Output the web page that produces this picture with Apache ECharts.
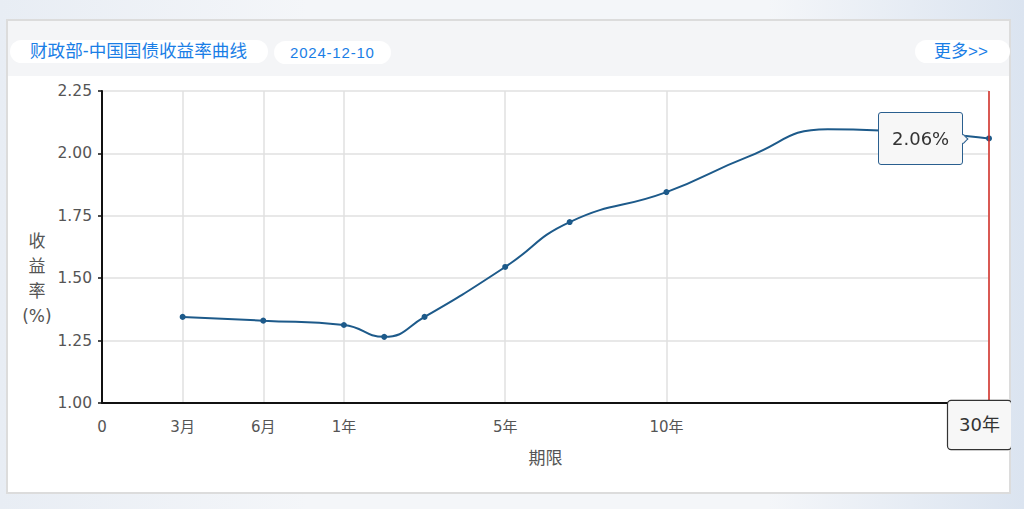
<!DOCTYPE html>
<html><head><meta charset="utf-8">
<script src="https://cdn.jsdelivr.net/npm/echarts@6/dist/echarts.min.js"></script>
<style>
html,body{margin:0;padding:0;width:1024px;height:509px;overflow:hidden;font-family:'Liberation Sans','Noto Sans CJK SC',sans-serif;}
body{background:linear-gradient(90deg,#e8edf4 0,#f4f6f9 30%,#f4f6f9 75%,#dbe4f0 100%);}
#card{position:absolute;left:6px;top:19px;width:1001px;height:471px;background:#fff;border:2px solid #dcdcdc;}
#head{position:absolute;left:0;top:0;width:100%;height:55px;background:#f4f5f7;}
.pill{position:absolute;height:23px;line-height:23px;background:#fff;border-radius:12px;color:#1a7ee6;white-space:nowrap;}
#chart{position:absolute;left:0;top:76px;width:1011px;height:418px;}
</style></head>
<body>
<div id="card"><div id="head">
<div class="pill" style="left:2px;top:19px;width:258px;padding-left:20px;box-sizing:border-box;font-size:17.6px;">财政部-中国国债收益率曲线</div>
<div class="pill" style="left:266px;top:20px;width:117px;padding-left:16px;box-sizing:border-box;font-size:15px;letter-spacing:0.8px;">2024-12-10</div>
<div class="pill" style="left:907px;top:19px;width:95px;padding-left:19px;box-sizing:border-box;font-size:17px;">更多&gt;&gt;</div>
</div></div>
<div id="chart"></div>
<script>
// ---- data ----
const tenorNames = ['3月','6月','1年','2年','3年','5年','7年','10年','15年','20年','30年'];
const tenorYears = [0.25,0.5,1,2,3,5,7,10,15,20,30];
const yields     = [1.345,1.33,1.3125,1.265,1.345,1.545,1.725,1.845,1.985,2.097,2.06];
const marked     = [true,true,true,true,true,true,true,true,false,false,true];
const tickYears  = [0,0.25,0.5,1,5,10,30];
const tickLabels = ['0','3月','6月','1年','5年','10年','30年'];
const tickSlots  = [0,1,2,3,5,7,11];
const yMin = 1.00, yMax = 2.25, yStep = 0.25;

// piecewise scale: tenor (years) -> axis slot
function slot(y){
  for(let i=0;i<tickYears.length-1;i++){
    if(y>=tickYears[i] && y<=tickYears[i+1]){
      return tickSlots[i] + (y-tickYears[i])/(tickYears[i+1]-tickYears[i])*(tickSlots[i+1]-tickSlots[i]);
    }
  }
  return tickSlots[tickSlots.length-1];
}
const maxSlot = tickSlots[tickSlots.length-1];
const gridColors = [];
for(let s=0;s<=maxSlot;s++) gridColors.push(tickSlots.indexOf(s)>=0 ? '#e0e0e0' : 'rgba(0,0,0,0)');
// the last tick's label is shown by the axis-pointer label that sits on top of it
const labelOf = v => {
  const r = Math.round(v); const k = tickSlots.indexOf(r);
  if (k<0 || Math.abs(v-r)>1e-6 || r===maxSlot) return '';
  return tickLabels[k];
};

const seriesData = tenorYears.map((t,i)=>({
  value:[slot(t), yields[i]], name:tenorNames[i],
  symbol: marked[i] ? 'circle' : 'none'
}));

const font = "'DejaVu Sans','Noto Sans CJK SC',sans-serif";
const chart = echarts.init(document.getElementById('chart'), null, {renderer:'svg'});
chart.setOption({
  animation:false,
  textStyle:{fontFamily:font},
  grid:{left:102, right:22, top:15, bottom:91, containLabel:false},
  xAxis:{
    type:'value', min:0, max:maxSlot, interval:1,
    name:'期限', nameLocation:'middle', nameGap:46,
    nameTextStyle:{color:'#555', fontSize:17, fontFamily:font},
    axisLine:{show:true, onZero:false, lineStyle:{color:'#111', width:2}},
    axisTick:{show:false},
    axisLabel:{color:'#555', fontSize:15, margin:16, formatter:labelOf, fontFamily:font},
    splitLine:{show:true, lineStyle:{color:gridColors, width:1.5}},
    axisPointer:{
      show:true, value:maxSlot, status:'show', snap:false, triggerTooltip:false, type:'line',
      lineStyle:{color:'#d42a22', width:1.5, type:'solid'},
      label:{show:true, formatter:()=>tenorNames[tenorNames.length-1], backgroundColor:'#f7f7f7',
        borderColor:'#333', borderWidth:1.2, borderRadius:3, color:'#333', fontSize:18,
        padding:[15,11,15,11], margin:-2, fontFamily:font}
    }
  },
  yAxis:{
    type:'value', min:yMin, max:yMax, interval:yStep, offset:3,
    name:'{g| }\n{t|收}\n{t|益}\n{t|率}\n{t|(%)}', nameLocation:'middle', nameGap:57, nameRotate:0,
    nameTextStyle:{color:'#555', fontSize:17, align:'center', fontFamily:font,
      rich:{g:{lineHeight:62, height:62, fontSize:10}, t:{lineHeight:25, fontSize:17, color:'#555', fontFamily:font}}},
    axisLine:{show:true, lineStyle:{color:'#111', width:2}},
    axisTick:{show:true, length:4, lineStyle:{color:'#111', width:1.5}},
    axisLabel:{color:'#555', fontSize:15.5, margin:7, formatter:v=>v.toFixed(2), fontFamily:font},
    splitLine:{show:true, lineStyle:{color:'#e0e0e0', width:1.5}}
  },
  tooltip:{
    trigger:'item', triggerOn:'none', alwaysShowContent:true, position:'left',
    backgroundColor:'#f7f7f7', borderColor:'#2a5f8f', borderWidth:1.5,
    padding:[12,13], textStyle:{color:'#333', fontSize:18, fontFamily:font},
    extraCssText:'border-radius:3px;box-shadow:none;margin-left:-12px;',
    formatter:p=>p.value[1].toFixed(2)+'%'
  },
  series:[{
    type:'line', smooth:true, data:seriesData,
    symbolSize:6, showAllSymbol:true,
    lineStyle:{color:'#1d5a8a', width:2},
    itemStyle:{color:'#1d5a8a'}
  }]
});
setTimeout(()=>chart.dispatchAction({type:'showTip', seriesIndex:0, dataIndex:tenorYears.length-1}), 50);
</script>
</body></html>
